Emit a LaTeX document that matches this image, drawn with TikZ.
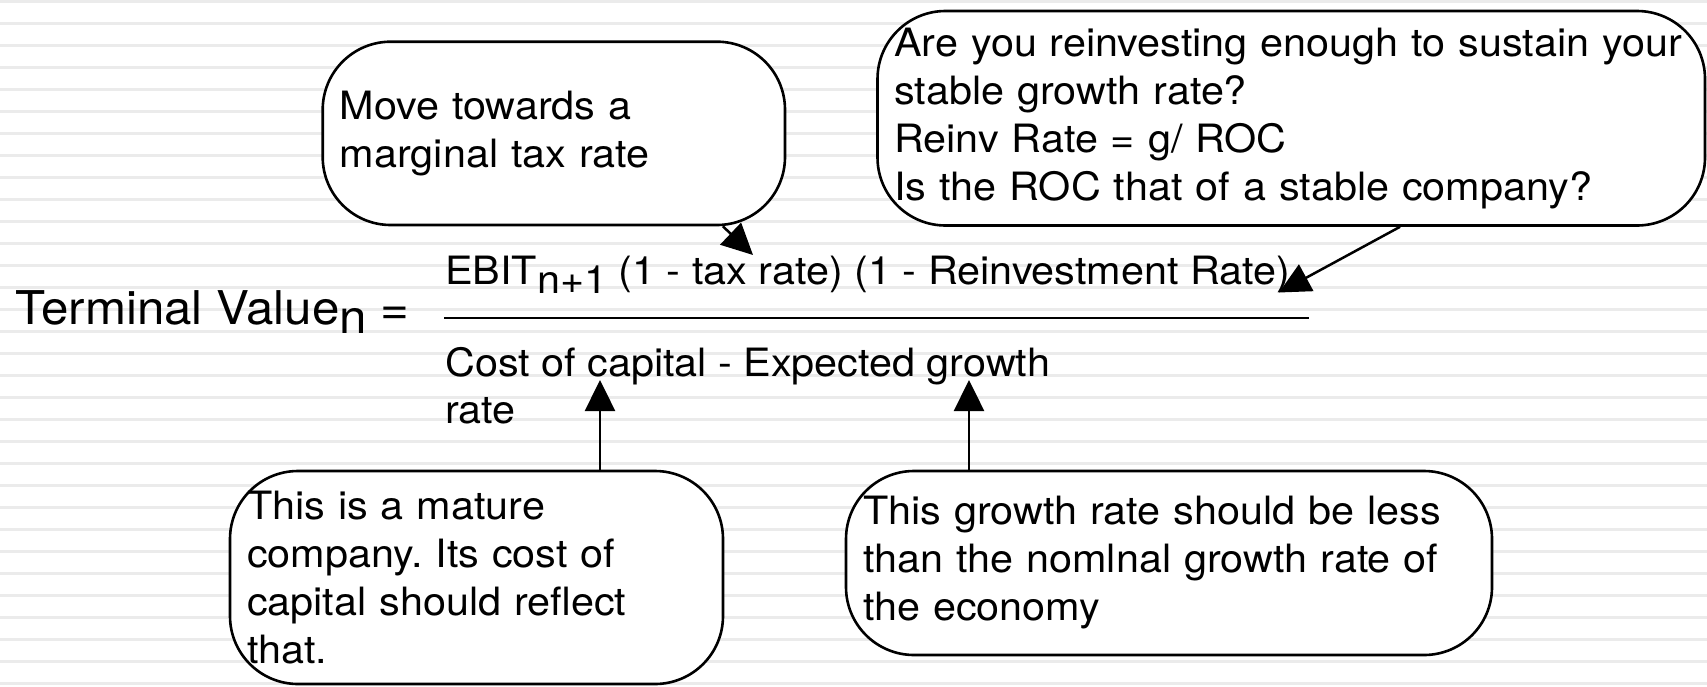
\documentclass[tikz,border=0pt]{standalone}
\usepackage{fontspec}
\setmainfont{TeX Gyre Heros}[FakeStretch=1.06]
\usetikzlibrary{arrows.meta}
\frenchspacing
\begin{document}
\begin{tikzpicture}[x=1pt,y=-1pt,
  stripe/.style={line width=3.5pt, draw=black!8},
  callout/.style={draw=black, fill=white, line width=2.6pt, rounded corners=68pt,
    align=left, inner xsep=0pt, inner ysep=0pt, font=\fontsize{39}{48}\selectfont},
  pointer/.style={line width=2.5pt, -{Triangle[length=31pt,width=30pt]}},
  formula/.style={inner sep=0pt, anchor=base west, font=\fontsize{39}{47}\selectfont},
  bar/.style={line width=2.8pt},
]
\useasboundingbox (0,0) rectangle (1707,686);
\fill[white] (0,0) rectangle (1707,686);
\foreach \i in {0,...,31} \draw[stripe] (0,{1.7+22*\i}) -- (1707,{1.7+22*\i});

% callout boxes
\node[callout, minimum width=462.3pt, minimum height=183.3pt, text width=428pt]
  (B1) at (553.85,133.35) {Move towards a\\marginal tax rate};
\node[callout, minimum width=827.5pt, minimum height=214.5pt, text width=794pt]
  (B2) at (1291.25,118.25) {\mbox{Are you reinvesting enough to sustain your}\\stable growth rate?\\Reinv Rate = g/ ROC\\Is the ROC that of a stable company?};
\node[callout, minimum width=493pt, minimum height=213pt, text width=459pt]
  (B3) at (476.5,577.5) {This is a mature\\company. Its cost of\\capital should reflect\\that.};
\node[callout, minimum width=646pt, minimum height=184pt, text width=612pt]
  (B4) at (1169,563) {This growth rate should be less\\than the nomlnal growth rate of\\the economy};

% formula
\node[inner sep=0pt, anchor=base west, font=\fontsize{46.5}{56}\selectfont]
  (tv) at (15.5,324) {Terminal Value\raisebox{-9pt}{n} =};
\node[formula] (num) at (445,284) {EBIT\raisebox{-9pt}{n+1} (1 - tax rate) (1 - Reinvestment Rate)};
\coordinate (fl) at (444,318);
\coordinate (fr) at (1309,318);
\draw[bar] (fl) -- (fr);
\node[formula] (den1) at (445,376) {Cost of capital - Expected growth};
\node[formula] (den2) at (445,423) {rate};

% pointers
\coordinate (t1) at (753,255);
\coordinate (t2) at (1279,292.5);
\coordinate (t3) at (600,380);
\coordinate (t4) at (969,380);
\draw[pointer] ([xshift=169pt]B1.south) -- (t1);
\draw[pointer] ([xshift=108.75pt]B2.south) -- (t2);
\draw[pointer] (t3 |- B3.north) -- (t3);
\draw[pointer] (t4 |- B4.north) -- (t4);
\end{tikzpicture}
\end{document}
